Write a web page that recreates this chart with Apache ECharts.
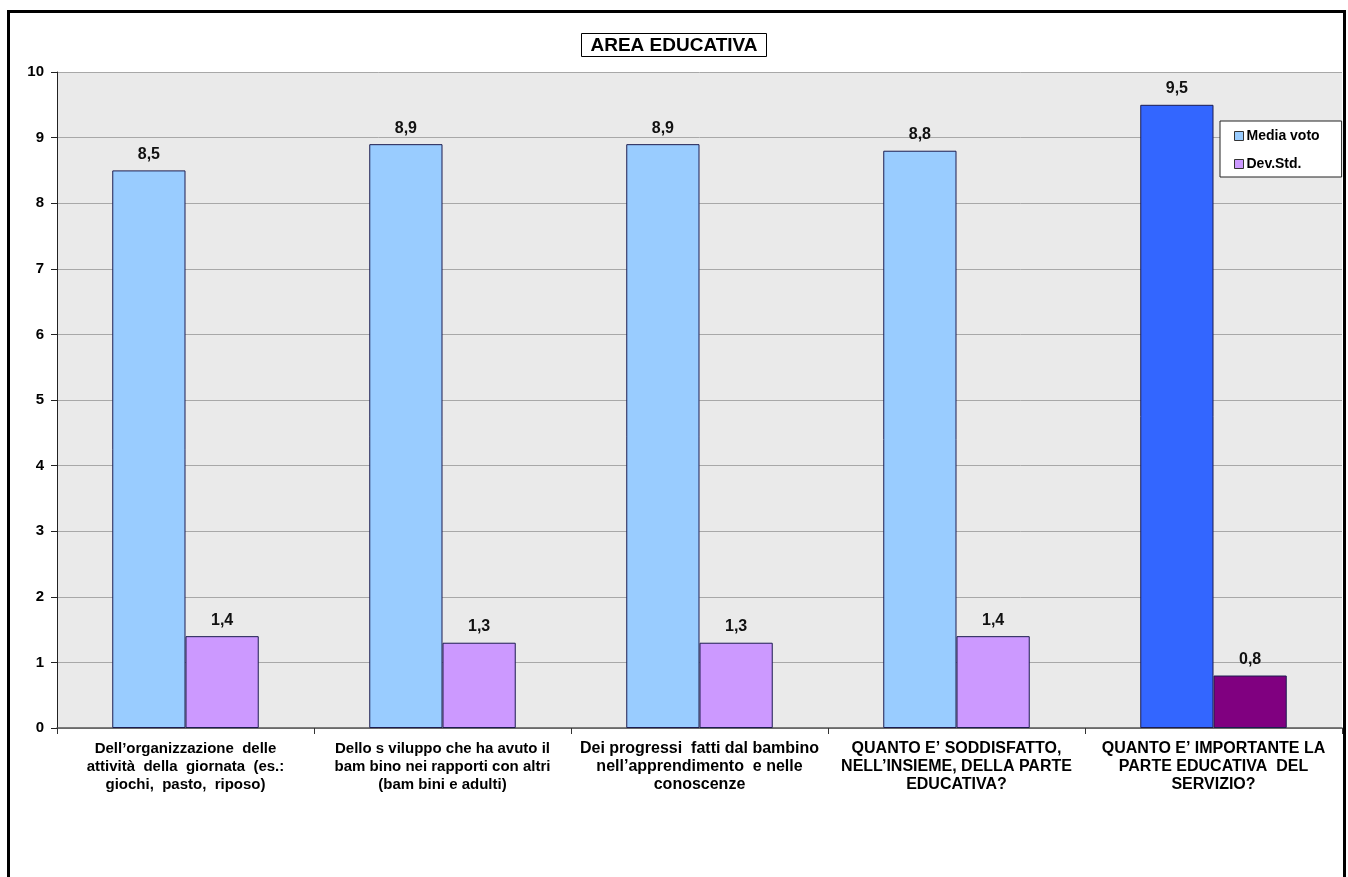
<!DOCTYPE html>
<html>
<head>
<meta charset="UTF-8">
<title>Area educativa</title>
<script type="text/javascript" src="https://cdn.jsdelivr.net/npm/echarts@6/dist/echarts.min.js"></script>
<style>
  html, body { margin: 0; padding: 0; background: #fff; }
</style>
</head>
<body>
<div id="main" style="width:1348px;height:877px"></div>

<script type="text/javascript">
// categorie (con gli a capo come nel grafico originale)
var categorie = [
  "Dell\u2019organizzazione  delle\nattività  della  giornata  (es.:\ngiochi,  pasto,  riposo)",
  "Dello s viluppo che ha avuto il\nbam bino nei rapporti con altri\n(bam bini e adulti)",
  "Dei progressi  fatti dal bambino\nnell\u2019apprendimento  e nelle\nconoscenze",
  "QUANTO E\u2019 SODDISFATTO,\nNELL\u2019INSIEME, DELLA PARTE\nEDUCATIVA?",
  "QUANTO E\u2019 IMPORTANTE LA\nPARTE EDUCATIVA  DEL\nSERVIZIO?"
];
var mediaVoto = [8.5, 8.9, 8.9, 8.8, 9.5];
var devStd = [1.4, 1.3, 1.3, 1.4, 0.8];
var yTicks = [0, 1, 2, 3, 4, 5, 6, 7, 8, 9, 10];

var coloreMedia = '#99ccff', coloreMediaTot = '#3366ff';
var coloreDev = '#cc99ff', coloreDevTot = '#800080';

var font = 'Liberation Sans, Arial, sans-serif';

var mychart = echarts.init(document.getElementById("main"));

// l'ultima categoria ha colori più scuri
function conColori(valori, base, ultimo) {
  var out = [];
  for (var i = 0; i < valori.length; i++) {
    out.push({
      value: valori[i],
      itemStyle: { color: i == valori.length - 1 ? ultimo : base }
    });
  }
  return out;
}

var etichetta = {
  show: true,
  position: 'top',
  distance: 8,
  fontFamily: font,
  fontWeight: 'bold',
  fontSize: 16,
  color: '#111',
  formatter: function (p) { return String(p.value).replace('.', ','); }
};

var option = {
  animation: false,
  textStyle: { fontFamily: font },
  title: {
    text: 'AREA EDUCATIVA',
    left: 'center',
    top: 33,
    padding: [3, 9, 2, 9],
    borderColor: '#000',
    borderWidth: 1,
    textStyle: {
      fontFamily: font,
      fontWeight: 'bold',
      fontSize: 19,
      color: '#000'
    }
  },
  legend: {
    orient: 'vertical',
    left: 1220,
    top: 121,
    padding: [8, 22, 6, 14],
    itemGap: 14,
    itemWidth: 9,
    itemHeight: 9,
    icon: 'rect',
    backgroundColor: '#fff',
    borderColor: '#222',
    borderWidth: 1,
    itemStyle: { borderColor: '#333', borderWidth: 1 },
    textStyle: {
      fontFamily: font,
      fontWeight: 'bold',
      fontSize: 14,
      color: '#000',
      padding: [0, 0, 0, -2]
    },
    data: [
      { name: 'Media voto', itemStyle: { color: coloreMedia } },
      { name: 'Dev.Std.', itemStyle: { color: coloreDev } }
    ]
  },
  grid: {
    left: 57,
    right: 6,
    top: 72,
    bottom: 149,
    show: true,
    backgroundColor: '#eaeaea',
    borderWidth: 0
  },
  xAxis: {
    type: 'category',
    data: categorie,
    axisLine: { lineStyle: { color: '#555', width: 1.5 } },
    axisTick: { show: true, length: 6, lineStyle: { color: '#333' } },
    axisLabel: {
      interval: 0,
      margin: 12,
      formatter: function (v, i) {
        var st = i < 2 ? 'a' : 'n';
        return v.split('\n').map(function (r) { return '{' + st + '|' + r + '}'; }).join('\n');
      },
      rich: {
        a: {
          fontFamily: font,
          fontWeight: 'bold', fontSize: 15, lineHeight: 18, color: '#000'
        },
        n: {
          fontFamily: 'Liberation Sans Narrow, Arial Narrow, Liberation Sans, sans-serif',
          fontWeight: 'bold', fontSize: 16, lineHeight: 18, color: '#000'
        }
      }
    }
  },
  yAxis: {
    type: 'value',
    min: yTicks[0],
    max: yTicks[yTicks.length - 1],
    interval: 1,
    axisLine: { show: true, lineStyle: { color: '#222', width: 1 } },
    axisTick: { show: true, length: 6, lineStyle: { color: '#222' } },
    axisLabel: {
      margin: 13,
      fontFamily: font,
      fontWeight: 'bold',
      fontSize: 15,
      color: '#000'
    },
    splitLine: { lineStyle: { color: '#a8a8a8', width: 1 } }
  },
  series: [
    {
      name: 'Media voto',
      type: 'bar',
      barGap: '0%',
      barCategoryGap: '43%',
      itemStyle: { borderColor: '#1c1c50', borderWidth: 1 },
      label: etichetta,
      data: conColori(mediaVoto, coloreMedia, coloreMediaTot)
    },
    {
      name: 'Dev.Std.',
      type: 'bar',
      itemStyle: { borderColor: '#1c1c50', borderWidth: 1 },
      label: etichetta,
      data: conColori(devStd, coloreDev, coloreDevTot)
    }
  ],
  graphic: [
    {
      type: 'rect',
      left: 6,
      top: 9,
      shape: { width: 1336, height: 900 },
      style: { fill: null, stroke: '#000', lineWidth: 3 },
      silent: true
    }
  ]
};

mychart.setOption(option);
</script>
</body>
</html>
